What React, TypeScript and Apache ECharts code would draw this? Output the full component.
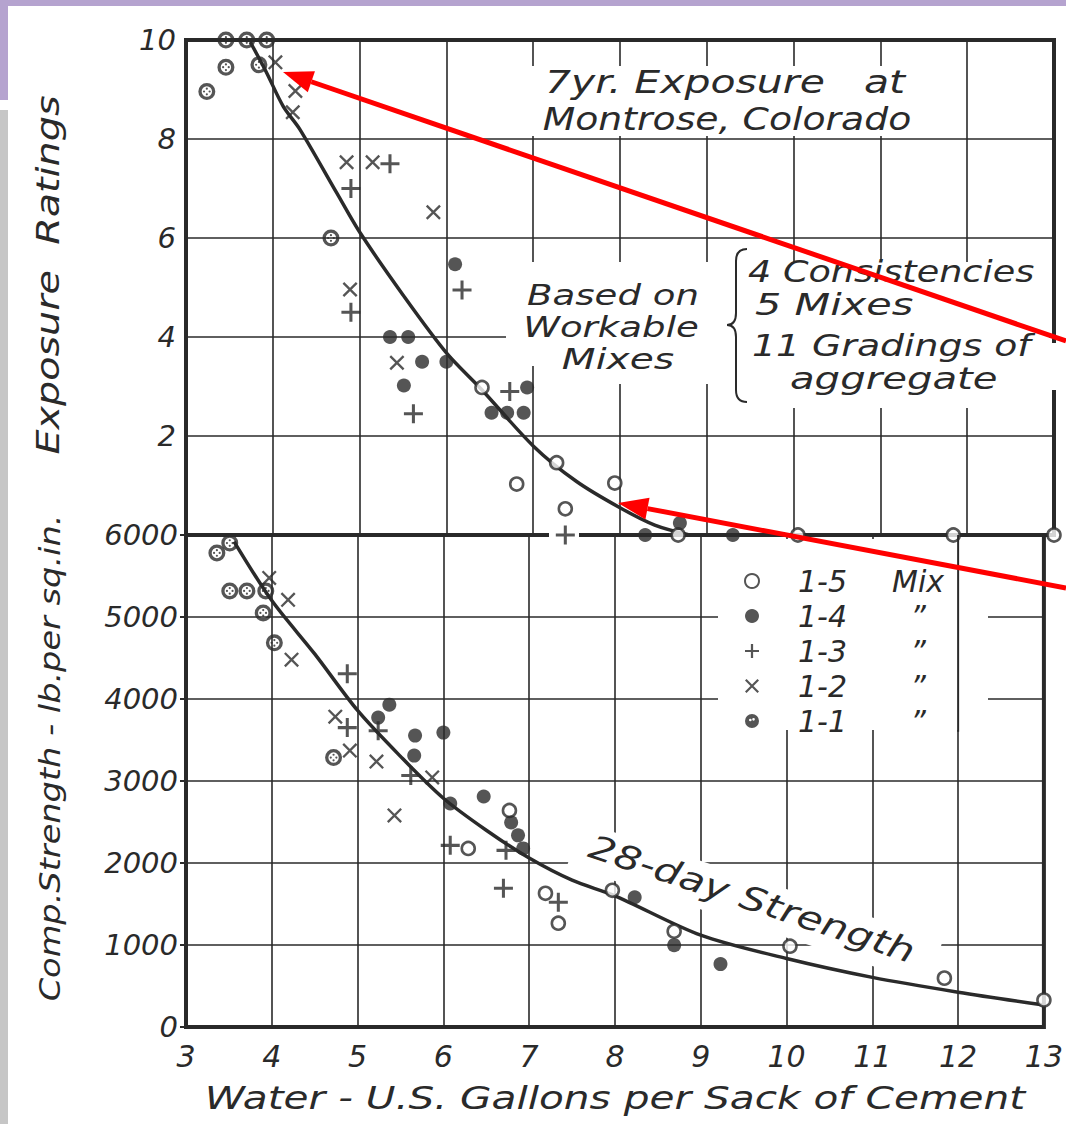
import React, { useEffect, useRef } from "react";
import * as echarts from "echarts";

// ---------- data ----------
// Exposure ratings (top panel) — [water gal/sack, rating]
const mix15Exposure = [[6.41, 2.98], [7.27, 1.46], [6.81, 1.03], [7.94, 1.05], [7.37, 0.53], [8.67, 0], [10.05, 0], [11.84, 0], [13.0, 0]];
const mix14Exposure = [[6.1, 5.47], [5.35, 4.0], [5.56, 4.0], [5.72, 3.5], [6.0, 3.5], [5.51, 3.02], [6.93, 2.98], [6.52, 2.47], [6.7, 2.47], [6.89, 2.47], [8.29, 0], [8.69, 0.24], [9.3, 0]];
const mix13Exposure = [[5.35, 7.5], [4.9, 7.0], [6.18, 4.95], [4.9, 4.5], [5.62, 2.45], [6.73, 2.9], [7.37, 0]];
const mix12Exposure = [[4.03, 9.55], [4.26, 8.97], [4.23, 8.54], [4.85, 7.53], [5.15, 7.53], [5.85, 6.52], [4.89, 4.96], [5.43, 3.48]];
const mix11Exposure = [[3.46, 10], [3.7, 10], [3.93, 10], [3.46, 9.45], [3.24, 8.96], [3.84, 9.5], [4.67, 6.0]];
const exposureCurve = [[3.74, 9.96], [3.92, 9.37], [4.12, 8.66], [4.31, 8.2], [4.74, 6.9], [5, 6.12], [5.5, 4.85], [6, 3.68], [6.4, 2.95], [7, 1.8], [7.5, 1.08], [8, 0.55], [8.4, 0.2], [8.8, 0]];

// 28-day compressive strength (bottom panel) — [water gal/sack, psi]
const mix15Strength = [[6.77, 2641], [6.29, 2178], [7.19, 1631], [7.34, 1266], [7.97, 1667], [8.69, 1168], [10.04, 986], [11.84, 596], [13.0, 329]];
const mix14Strength = [[5.37, 3931], [5.24, 3773], [5.67, 3554], [5.66, 3310], [6.0, 3590], [6.08, 2726], [6.47, 2811], [6.79, 2495], [6.87, 2337], [6.93, 2178], [8.23, 1582], [8.69, 998], [9.23, 767]];
const mix13Strength = [[4.88, 4308], [4.88, 3651], [5.24, 3614], [5.62, 3067], [6.08, 2215], [6.73, 2154], [6.7, 1692], [7.34, 1521]];
const mix12Strength = [[3.97, 5476], [4.19, 5209], [4.23, 4479], [4.74, 3785], [4.91, 3371], [5.22, 3237], [5.87, 3043], [5.43, 2580]];
const mix11Strength = [[3.36, 5781], [3.51, 5902], [3.51, 5318], [3.71, 5318], [3.93, 5318], [3.9, 5050], [4.03, 4685], [4.72, 3286]];
const strengthCurve = [[3.56, 5920], [4, 5200], [4.5, 4550], [5, 3860], [5.5, 3300], [6, 2790], [6.5, 2400], [7, 2060], [7.5, 1790], [8, 1600], [9, 1120], [10, 835], [11, 605], [12, 425], [13, 268]];

const mixNames = ["1-5", "1-4", "1-3", "1-2", "1-1"];
const mixSuffix = ["Mix", "\u201D", "\u201D", "\u201D", "\u201D"];

const waterRange = [3, 13];
const exposureRange = [0, 10];
const strengthRange = [0, 6000];
// grid line at 12 gal that runs on through the blanked legend area
const legendGapLine = [[12, 6000], [12, 3600]];

// ---------- styling ----------
const INK = "#2a2a2a";
const FONT = "DejaVu Sans";
const WIDE = 1.28;

function circ(cx: number, cy: number, r: number, cw: boolean) {
  const s = cw ? 1 : 0;
  return `M${cx - r},${cy}A${r},${r} 0 1,${s} ${cx + r},${cy}A${r},${r} 0 1,${s} ${cx - r},${cy}Z`;
}
const ringDots =
  "path://" +
  circ(10, 10, 10, true) +
  circ(10, 10, 6.1, false) +
  circ(10, 6.7, 1.3, true) +
  circ(10, 13.3, 1.3, true) +
  circ(6.7, 10, 1.3, true) +
  circ(13.3, 10, 1.3, true);
const solidDots = "path://" + circ(10, 10, 10, true) + circ(7.6, 8.6, 1.9, false) + circ(12.2, 7.6, 1.9, false);
const plusPath = "path://M4.2,0H5.8V4.2H10V5.8H5.8V10H4.2V5.8H0V4.2H4.2Z";
const crossPath = "path://M0,1.1L1.1,0L10,8.9L8.9,10ZM8.9,0L10,1.1L1.1,10L0,8.9Z";

echarts.graphic.registerShape(
  "brace",
  echarts.graphic.extendPath(
    "M20,0 C12,0 9,4 9,12 L9,64 C9,72 6,76 0,76 C6,76 9,80 9,88 L9,141 C9,149 12,153 20,153",
    {}
  )
);

const symbolStyles: Record<string, any> = {
  "1-5": { symbol: "circle", symbolSize: 13, itemStyle: { color: "#fff", borderColor: INK, borderWidth: 2.6 } },
  "1-4": { symbol: "circle", symbolSize: 14, itemStyle: { color: INK } },
  "1-3": { symbol: plusPath, symbolSize: 19, itemStyle: { color: INK } },
  "1-2": { symbol: crossPath, symbolSize: 15, itemStyle: { color: INK } },
  "1-1": { symbol: ringDots, symbolSize: 17, itemStyle: { color: INK } },
};

function scatter(name: string, data: number[][], panel: number) {
  return {
    type: "scatter",
    name,
    xAxisIndex: panel,
    yAxisIndex: panel,
    data,
    z: 4,
    silent: true,
    ...symbolStyles[name],
  };
}

function curve(data: number[][], panel: number, width = 3.5, smooth: any = 0.3, z = 3) {
  return {
    type: "line",
    xAxisIndex: panel,
    yAxisIndex: panel,
    data,
    smooth,
    showSymbol: false,
    symbol: "none",
    silent: true,
    clip: false,
    z,
    lineStyle: { color: INK, width },
  };
}

function arrow(tail: number[], tip: number[]) {
  const dx = tail[0] - tip[0];
  const dy = tail[1] - tip[1];
  const len = Math.hypot(dx, dy);
  const ux = dx / len, uy = dy / len;
  const hl = 30, hw = 11;
  const bx = tip[0] + ux * hl, by = tip[1] + uy * hl;
  const px = -uy * hw, py = ux * hw;
  return [
    { type: "line", z: 20, shape: { x1: tail[0], y1: tail[1], x2: bx, y2: by }, style: { stroke: "#ff0000", lineWidth: 5 } },
    { type: "polygon", z: 20, shape: { points: [[tip[0], tip[1]], [bx + px, by + py], [bx - px, by - py]] }, style: { fill: "#ff0000" } },
  ];
}

function txt(text: string, x: number, y: number, size: number, rotation = 0, align = "center", scaleX = WIDE) {
  return {
    type: "text",
    x,
    y,
    z: 6,
    rotation,
    scaleX,
    style: {
      text,
      fontSize: size,
      lineHeight: size,
      fontFamily: FONT,
      fontStyle: "italic",
      fill: INK,
      align,
      verticalAlign: "middle",
    },
  };
}

const white = { fill: "#fff" };
function eraser(x: number, y: number, w: number, h: number) {
  return { type: "rect", z: 1, shape: { x, y, width: w, height: h }, style: white };
}

const axisText = { fontFamily: FONT, fontStyle: "italic", color: INK };
const gridLine = { show: true, lineStyle: { color: INK, width: 1.6 } };

function buildOption() {
  return {
    animation: false,
    backgroundColor: "#fff",
    grid: [
      { left: 186, top: 40, width: 868, height: 495, show: true, borderColor: INK, borderWidth: 4, backgroundColor: "transparent" },
      { left: 186, top: 535, width: 868, height: 492, show: true, borderColor: INK, borderWidth: 4, backgroundColor: "transparent" },
    ],
    xAxis: [
      { gridIndex: 0, type: "value", min: waterRange[0], max: waterRange[1], interval: 1, axisLabel: { show: false }, axisTick: { show: false }, axisLine: { show: false }, splitLine: gridLine },
      { gridIndex: 1, type: "value", min: waterRange[0], max: waterRange[1], interval: 1, axisLabel: { ...axisText, fontSize: 30, margin: 14, formatter: (v: number) => String(v) }, axisTick: { show: false }, axisLine: { show: false }, splitLine: gridLine },
    ],
    yAxis: [
      { gridIndex: 0, type: "value", min: exposureRange[0], max: exposureRange[1], interval: 2, axisLabel: { ...axisText, fontSize: 29, margin: 10, formatter: (v: number) => (v === 0 ? "" : String(v)) }, axisTick: { show: false }, axisLine: { show: false }, splitLine: gridLine },
      { gridIndex: 1, type: "value", min: strengthRange[0], max: strengthRange[1], interval: 1000, axisLabel: { ...axisText, fontSize: 29, margin: 8, formatter: (v: number) => String(v) }, axisTick: { show: true, length: 6, lineStyle: { color: INK, width: 2 } }, axisLine: { show: false }, splitLine: gridLine },
    ],
    legend: {
      orient: "vertical",
      left: 739,
      top: 561,
      itemWidth: 14,
      itemHeight: 14,
      itemGap: 5,
      selectedMode: false,
      data: mixNames.map((n) => (n === "1-1" ? { name: n, icon: solidDots } : { name: n })),
      formatter: (name: string) => `{n|${name}}{m|${mixSuffix[mixNames.indexOf(name)]}}`,
      textStyle: {
        ...axisText,
        fontSize: 30,
        lineHeight: 28,
        rich: {
          n: { fontFamily: FONT, fontStyle: "italic", fontSize: 30, lineHeight: 28, color: INK, width: 84, padding: [0, 0, 0, 34] },
          m: { fontFamily: FONT, fontStyle: "italic", fontSize: 30, lineHeight: 28, color: INK, width: 72, align: "center" },
        },
      },
    },
    series: [
      curve(exposureCurve, 0),
      curve(strengthCurve, 1),
      curve(legendGapLine, 1, 2, false, 5),
      scatter("1-5", mix15Exposure, 0),
      scatter("1-4", mix14Exposure, 0),
      scatter("1-3", mix13Exposure, 0),
      scatter("1-2", mix12Exposure, 0),
      scatter("1-1", mix11Exposure, 0),
      scatter("1-5", mix15Strength, 1),
      scatter("1-4", mix14Strength, 1),
      scatter("1-3", mix13Strength, 1),
      scatter("1-2", mix12Strength, 1),
      scatter("1-1", mix11Strength, 1),
    ],
    graphic: {
      elements: [
        // slide frame
        { type: "rect", z: 0, shape: { x: 0, y: 0, width: 1066, height: 6 }, style: { fill: "#b5a3cf" } },
        { type: "rect", z: 0, shape: { x: 0, y: 0, width: 8, height: 100 }, style: { fill: "#b5a3cf" } },
        { type: "rect", z: 0, shape: { x: 0, y: 110, width: 8, height: 1014 }, style: { fill: "#c6c6c6" } },
        // erased grid areas
        eraser(451, 66, 508, 70),
        eraser(506, 262, 543, 104),
        eraser(590, 366, 459, 18),
        eraser(760, 384, 289, 24),
        eraser(1049, 343, 12, 47),
        eraser(549, 530, 30, 10),
        eraser(718, 539, 270, 191),
        { type: "rect", z: 1, x: 755, y: 903, rotation: -0.319, shape: { x: -190, y: -23, width: 380, height: 46 }, style: white },
        // annotations
        txt("7yr. Exposure   at", 725, 82, 32),
        txt("Montrose, Colorado", 727, 119, 32, 0, "center", 1.18),
        txt("Based on", 613, 295, 29),
        txt("Workable", 611, 327, 29),
        txt("Mixes", 618, 359, 29, 0, "center", 1.35),
        { type: "brace", z: 6, x: 727, y: 249, style: { stroke: INK, lineWidth: 2, fill: "none" } },
        txt("4 Consistencies", 748, 272, 30, 0, "left", 1.22),
        txt("5 Mixes", 755, 305, 30, 0, "left", 1.38),
        txt("11 Gradings of", 752, 345, 30, 0, "left", 1.26),
        txt("aggregate", 790, 378, 30, 0, "left", 1.34),
        txt("28-day Strength", 752, 899, 33, -0.319, "center", 1.27),
        // axis titles
        txt("Exposure  Ratings", 48, 275, 32, Math.PI / 2, "center", 1.24),
        txt("Comp.Strength - lb.per sq.in.", 50, 758, 28, Math.PI / 2, "center", 1.2),
        txt("Water - U.S. Gallons per Sack of Cement", 615, 1098, 32, 0, "center", 1.27),
        // red arrows
        ...arrow([1066, 341], [283, 72]),
        ...arrow([1066, 588], [618, 503]),
      ],
    },
  };
}

export default function App() {
  const ref = useRef<HTMLDivElement>(null);
  useEffect(() => {
    if (!ref.current) return;
    const chart = echarts.init(ref.current, null, { renderer: "svg" });
    chart.setOption(buildOption() as any);
    return () => chart.dispose();
  }, []);
  return <div ref={ref} style={{ position: "absolute", left: 0, top: 0, width: 1066, height: 1124 }} />;
}
